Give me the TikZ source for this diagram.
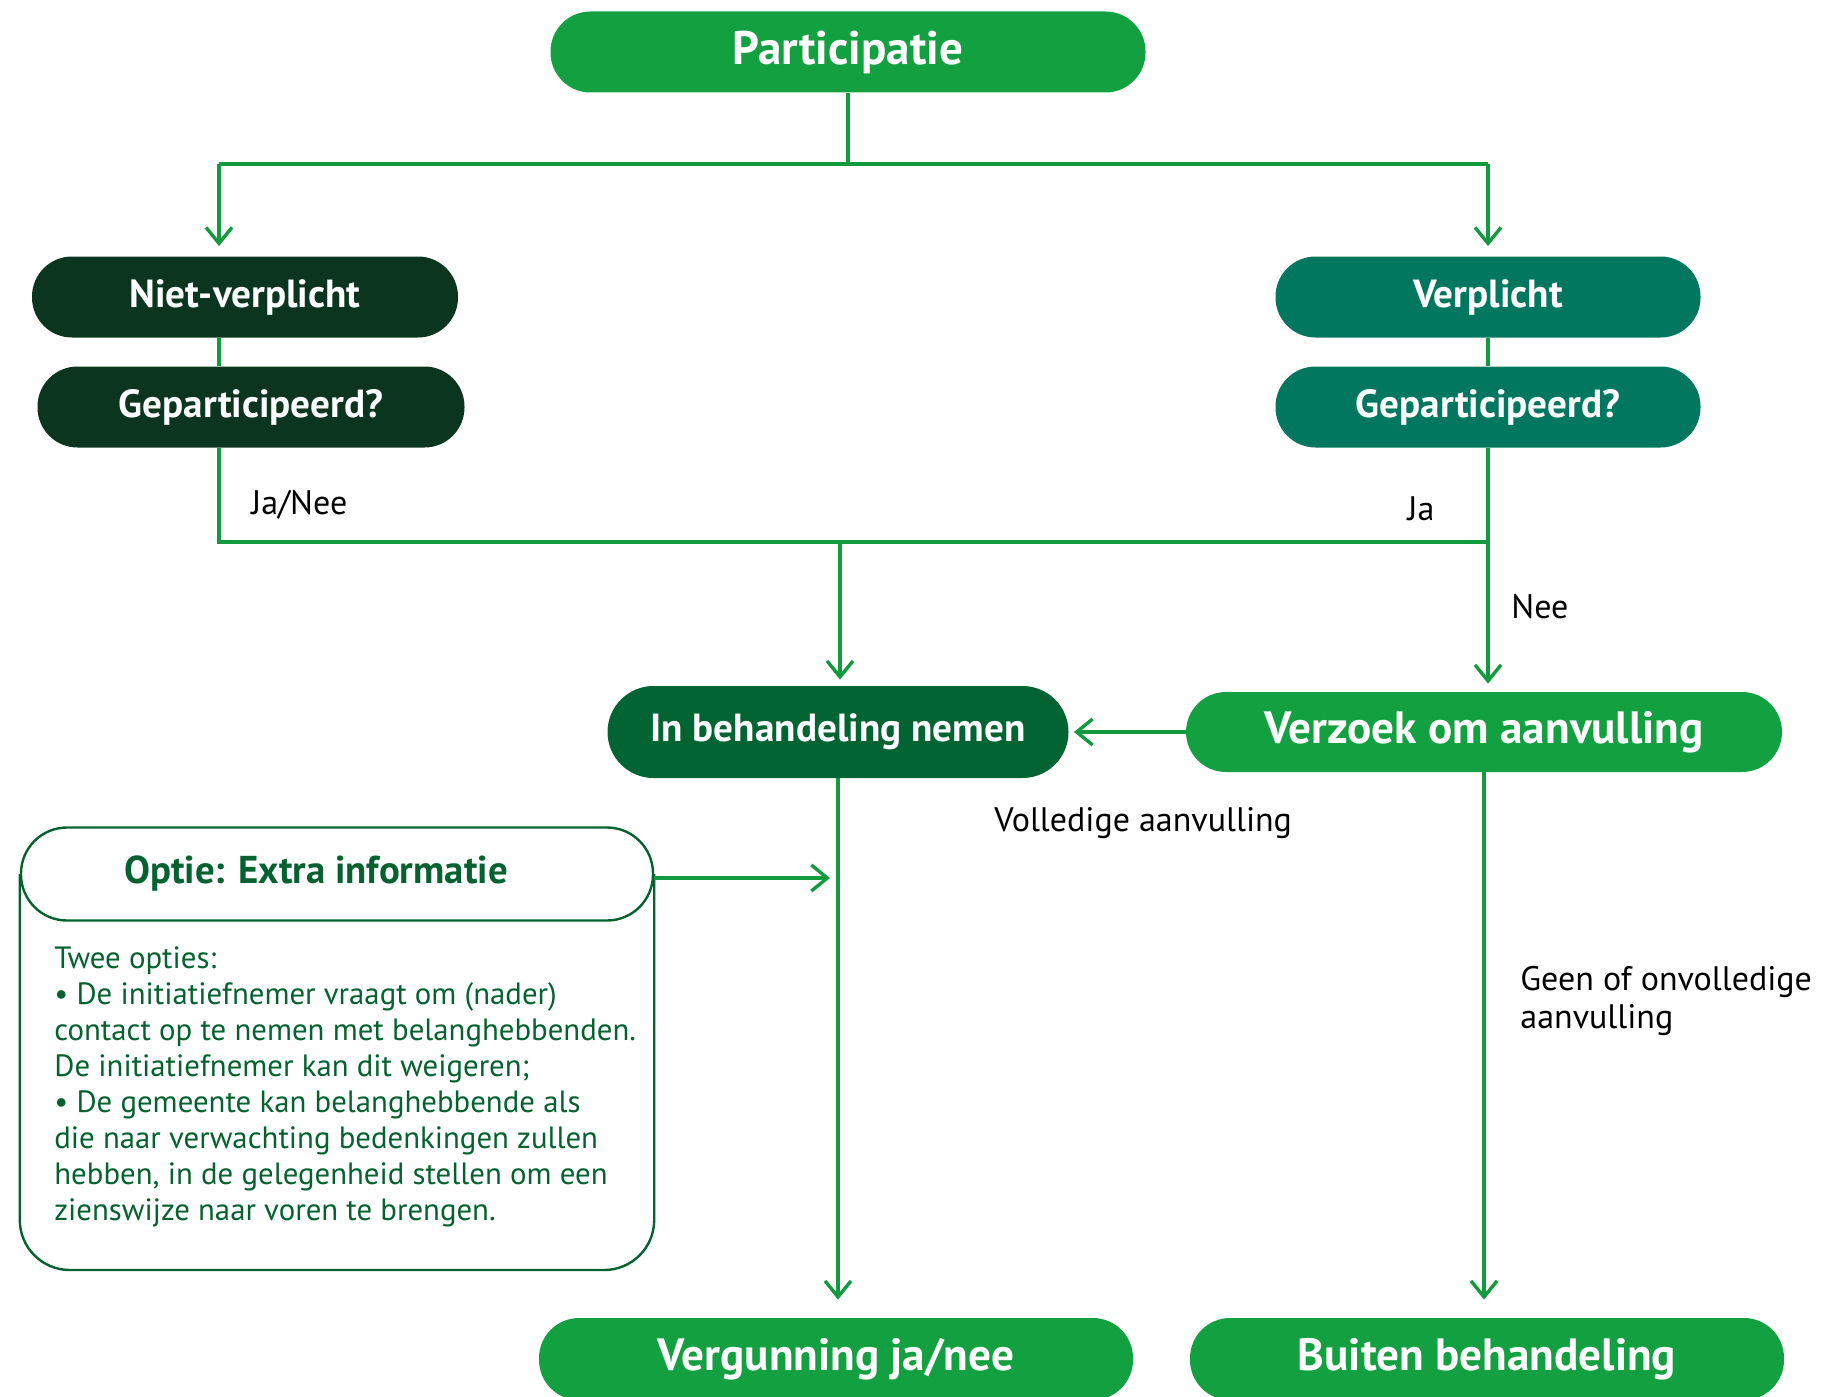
\documentclass[tikz,border=0pt]{standalone}
\usepackage{fontspec}
\setmainfont{PT Sans}
\usetikzlibrary{arrows.meta}

\definecolor{brightgreen}{RGB}{19,160,64}
\definecolor{darkgreen}{RGB}{11,53,31}
\definecolor{petrol}{RGB}{2,119,96}
\definecolor{mossgreen}{RGB}{2,100,50}
\definecolor{linegreen}{RGB}{17,155,62}
\definecolor{boxgreen}{RGB}{5,98,48}

\tikzset{
  pill/.style={rectangle,rounded corners=20pt,inner sep=0pt,text=white,
    minimum height=40.5pt,font=\bfseries\fontsize{19.6}{22}\selectfont},
  bigpill/.style={pill,font=\bfseries\fontsize{22.6}{26}\selectfont},
  link/.style={draw=linegreen,line width=1.7pt},
  flow/.style={link,-{Straight Barb[length=8pt,width=13pt]}},
  lbl/.style={inner sep=0pt,text=black,font=\fontsize{17}{19}\selectfont},
}

\begin{document}
\begin{tikzpicture}[x=0.5pt,y=-0.5pt]
\useasboundingbox (0,0) rectangle (1845,1396);

% top
\node[bigpill,fill=brightgreen,minimum width=297.5pt,font=\bfseries\fontsize{23.5}{26}\selectfont] (part) at (848,52) {Participatie};

% two columns
\node[pill,fill=darkgreen,minimum width=213pt] (niet) at (245,297) {Niet-verplicht};
\node[pill,fill=darkgreen,minimum width=213.5pt] (gepL) at (251,407) {Geparticipeerd?};
\node[pill,fill=petrol,minimum width=212.5pt] (verp) at (1488,297) {Verplicht};
\node[pill,fill=petrol,minimum width=212.5pt] (gepR) at (1488,407) {Geparticipeerd?};

% middle row
\node[pill,fill=mossgreen,minimum width=230.5pt,minimum height=46pt,rounded corners=23pt] (inbeh) at (838,732) {In behandeling nemen};
\node[bigpill,fill=brightgreen,minimum width=298pt,minimum height=40pt] (verz) at (1484,732) {Verzoek om aanvulling};

% bottom row
\node[bigpill,fill=brightgreen,minimum width=297pt,minimum height=41pt] (verg) at (836,1359) {Vergunning ja/nee};
\node[bigpill,fill=brightgreen,minimum width=297pt,minimum height=41pt] (buiten) at (1487,1359) {Buiten behandeling};

% optie box
\node[draw=boxgreen,line width=1.2pt,rectangle,rounded corners=23pt,minimum width=316pt,minimum height=46.5pt,inner sep=0pt,text=boxgreen,font=\bfseries\fontsize{19.4}{22}\selectfont] (optkop) at (337,874) {Optie: Extra informatie\hspace*{21pt}};
\coordinate (optbodem) at (337,1270);
\draw[boxgreen,line width=1.2pt,rounded corners=25pt]
  (optkop.west) -- (optkop.west |- optbodem) -- (optkop.east |- optbodem) -- (optkop.east);
\node[anchor=north west,inner sep=0pt,align=left,text=boxgreen,font=\fontsize{15.4}{18}\selectfont] (optuitleg) at (54,946)
  {Twee opties:\\
   \textbullet{} De initiatiefnemer vraagt om (nader)\\
   contact op te nemen met belanghebbenden.\\
   De initiatiefnemer kan dit weigeren;\\
   \textbullet{} De gemeente kan belanghebbende als\\
   die naar verwachting bedenkingen zullen\\
   hebben, in de gelegenheid stellen om een\\
   zienswijze naar voren te brengen.};

% connectors
\coordinate (topL) at (219,164);
\coordinate (topR) at (1488,164);
\coordinate (midL) at (219,542);
\coordinate (midR) at (1488,542);
\coordinate (midC) at (840,542);
\coordinate (optdoel) at (830,878);

\draw[link] (part.south) -- (part.south |- topL);
\draw[link] (topL) -- (topR);
\draw[flow,shorten >=5pt] (topL) -- (topL |- niet.north);
\draw[flow,shorten >=5pt] (topR) -- (verp.north);
\draw[link] (niet.south -| topL) -- (gepL.north -| topL);
\draw[link] (verp.south) -- (gepR.north);
\draw[link] (gepL.south -| midL) -- (midL) -- (midR);
\draw[flow,shorten >=4pt] (gepR.south) -- (gepR.south |- verz.north);
\draw[flow,shorten >=3pt] (midC) -- (midC |- inbeh.north);
\draw[flow,shorten >=2.5pt] (verz.west) -- (inbeh.east);
\draw[flow,shorten >=9pt] (inbeh.south) -- (inbeh.south |- verg.north);
\draw[flow,shorten >=9pt] (verz.south) -- (verz.south |- buiten.north);
\draw[flow] (optkop.east |- optdoel) -- (optdoel);

% labels
\node[lbl,anchor=west] (janee) at (251,505) {Ja/Nee};
\node[lbl] (ja) at (1421,509) {Ja};
\node[lbl,anchor=west] (nee) at (1511,607) {Nee};
\node[lbl,anchor=west] (volledig) at (994,823) {Volledige aanvulling};
\node[lbl,anchor=west,align=left] (onvolledig) at (1520,1001) {Geen of onvolledige\\aanvulling};

\end{tikzpicture}
\end{document}
